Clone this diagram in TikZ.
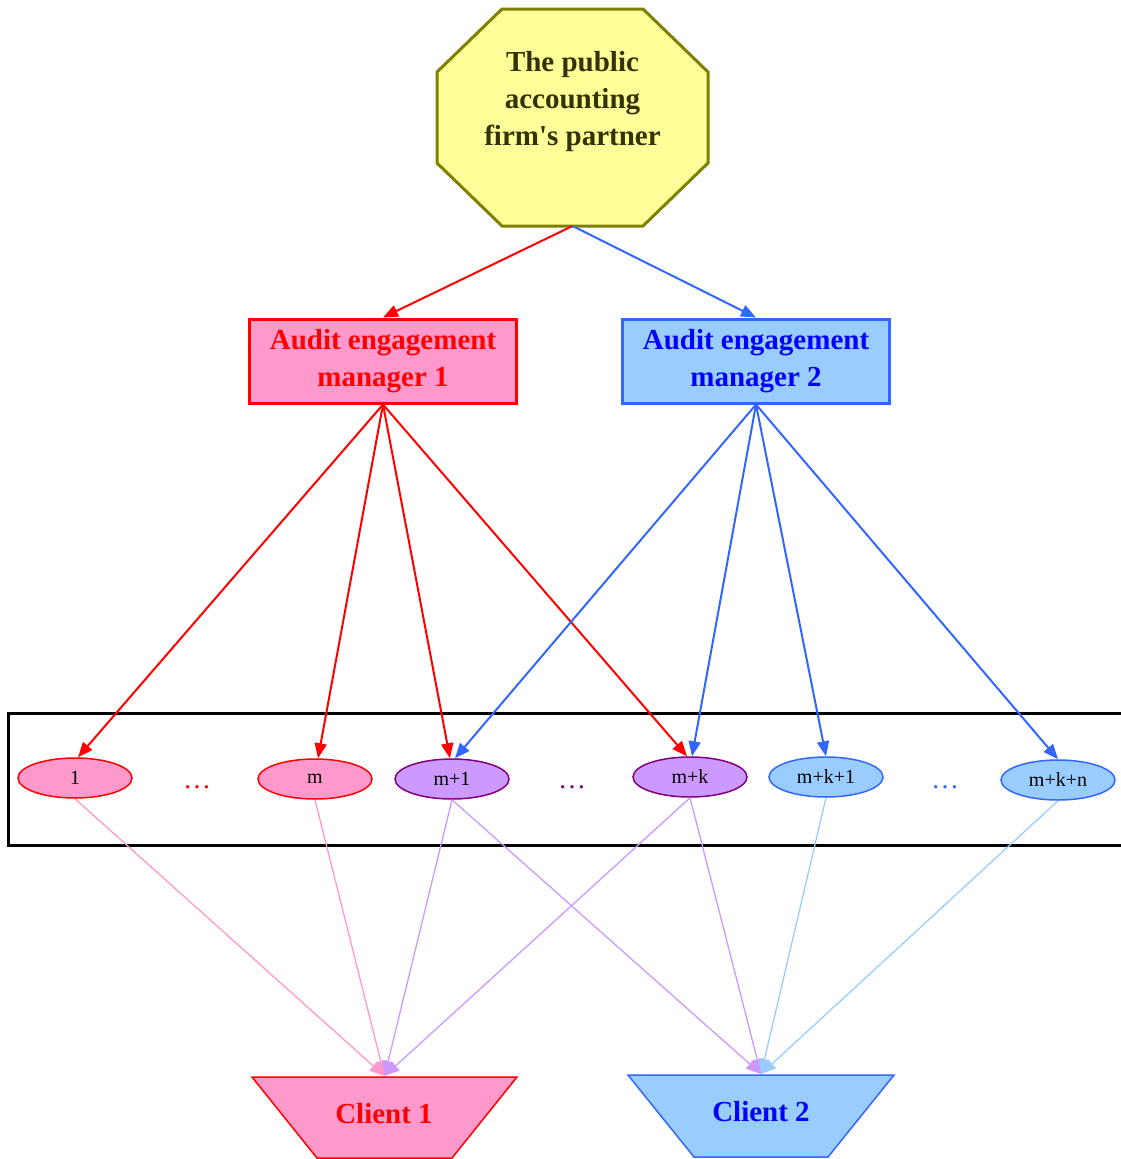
\documentclass[tikz,border=0pt]{standalone}
\usepackage{fontspec}
\setmainfont{Liberation Serif}
\usetikzlibrary{arrows.meta,shapes.geometric}
\definecolor{pinkF}{HTML}{FF99CC}
\definecolor{redL}{HTML}{FF0000}
\definecolor{blueF}{HTML}{99CCFF}
\definecolor{blueL}{HTML}{3366FF}
\definecolor{blueT}{HTML}{0000FF}
\definecolor{purpF}{HTML}{CC99FF}
\definecolor{purpL}{HTML}{800080}
\definecolor{yellF}{HTML}{FFFF99}
\definecolor{oliveL}{HTML}{808000}
\definecolor{oliveT}{HTML}{333300}
\begin{document}
\begin{tikzpicture}[x=1pt,y=-1pt,
  bigtxt/.style={font=\fontsize{29}{37}\selectfont\bfseries, align=center},
  mgr/.style={bigtxt, draw, line width=3pt, minimum width=267, minimum height=84, inner sep=0pt},
  ell/.style={ellipse, draw, line width=1.5pt, minimum width=114, minimum height=40, inner sep=0pt, font=\fontsize{20}{24}\selectfont},
  pinkell/.style={ell, fill=pinkF, draw=redL},
  purpell/.style={ell, fill=purpF, draw=purpL},
  blueell/.style={ell, fill=blueF, draw=blueL},
  dotsnode/.style={font=\fontsize{28}{32}\selectfont, inner sep=0pt},
  clientshape/.style={line width=1.5pt},
  uparrow/.style={line width=2pt, -{Triangle[length=15pt,width=12pt]}},
  lowarrow/.style={line width=1.3pt, -{Triangle[length=15pt,width=12pt]}}
]
\useasboundingbox (0,0) rectangle (1121,1159);
% partner octagon
\draw[line width=3pt, draw=oliveL, fill=yellF] (502,9) -- (643,9) -- (708,72) -- (708,163) -- (643,226) -- (502,226) -- (437,163) -- (437,72) -- cycle;
\node[bigtxt, text=oliveT] (partner) at (572.5,102) {The public\\accounting\\firm\textquotesingle s partner};
\coordinate (pS) at (572.5,226);
% managers
\node[mgr, fill=pinkF, draw=redL, text=redL] (m1) at (383,361) {Audit engagement\\manager 1};
\node[mgr, fill=blueF, draw=blueL, text=blueT] (m2) at (756,361) {Audit engagement\\manager 2};
% frame
\draw[line width=3pt] (1130,713) -- (8,713) -- (8,845) -- (1130,845);
% staff
\node[pinkell] (e1) at (75,778) {1};
\node[dotsnode, text=redL] (d1) at (197,787) {…};
\node[pinkell] (e2) at (315,779) {m};
\node[purpell] (e3) at (452,779) {m+1};
\node[dotsnode, text=purpL] (d2) at (572,787) {…};
\node[purpell] (e4) at (690,777) {m+k};
\node[blueell] (e5) at (826,777) {m+k+1};
\node[dotsnode, text=blueL] (d3) at (945,787) {…};
\node[blueell] (e6) at (1058,780) {m+k+n};
% clients
\draw[clientshape, fill=pinkF, draw=redL] (252,1077) -- (517,1077) -- (452,1158) -- (317,1158) -- cycle;
\node[bigtxt, text=redL] (c1) at (384,1114) {Client 1};
\coordinate (c1top) at (384.5,1076);
\draw[clientshape, fill=blueF, draw=blueL] (628,1075) -- (894,1075) -- (828,1157) -- (694,1157) -- cycle;
\node[bigtxt, text=blueT] (c2) at (761,1112) {Client 2};
\coordinate (c2top) at (761,1074);
% partner to managers
\draw[uparrow, redL] (pS) -- (m1.north);
\draw[uparrow, blueL] (pS) -- (m2.north);
% managers to staff
\draw[uparrow, redL] (m1.south) -- ([xshift=3pt]e1.north);
\draw[uparrow, redL] (m1.south) -- ([xshift=3pt]e2.north);
\draw[uparrow, redL] (m1.south) -- ([xshift=-2pt]e3.north);
\draw[uparrow, redL] (m1.south) -- ([xshift=-3pt]e4.north);
\draw[uparrow, blueL] (m2.south) -- ([xshift=3pt]e3.north);
\draw[uparrow, blueL] (m2.south) -- ([xshift=2pt]e4.north);
\draw[uparrow, blueL] (m2.south) -- (e5.north);
\draw[uparrow, blueL] (m2.south) -- (e6.north);
% staff to clients
\draw[lowarrow, pinkF] (e1.south) -- (c1top);
\draw[lowarrow, pinkF] (e2.south) -- (c1top);
\draw[lowarrow, purpF] (e3.south) -- (c1top);
\draw[lowarrow, purpF] (e4.south) -- (c1top);
\draw[lowarrow, purpF] (e3.south) -- (c2top);
\draw[lowarrow, purpF] (e4.south) -- (c2top);
\draw[lowarrow, blueF] (e5.south) -- (c2top);
\draw[lowarrow, blueF] (e6.south) -- (c2top);
\end{tikzpicture}
\end{document}
